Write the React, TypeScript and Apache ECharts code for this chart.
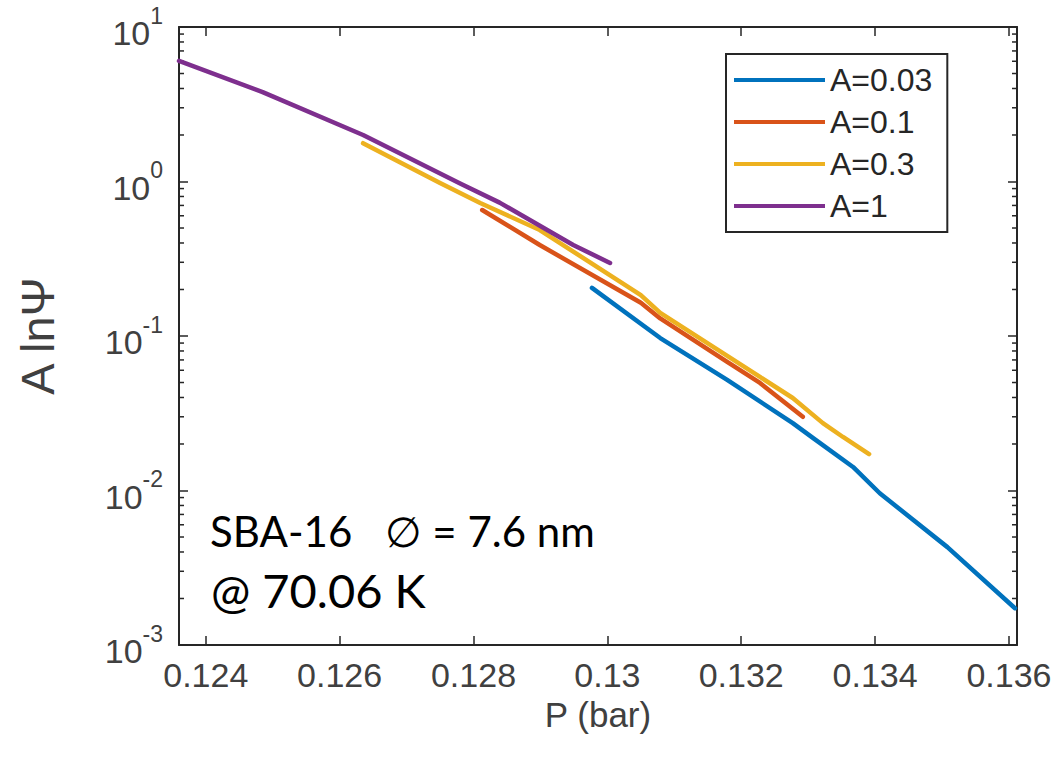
import { useEffect, useRef } from "react";
import * as echarts from "echarts";

const seriesNames = ["A=0.03", "A=0.1", "A=0.3", "A=1"];
const seriesColors = ["#0072BD", "#D95319", "#EDB120", "#7E2F8E"];

const blueP = [0.12977, 0.13079, 0.13179, 0.13277, 0.13307, 0.13367, 0.13407, 0.13508, 0.13609];
const blueV = [0.205, 0.097, 0.052, 0.0273, 0.0219, 0.0142, 0.0096, 0.0043, 0.00173];

const redP = [0.12813, 0.12899, 0.1305, 0.13079, 0.13179, 0.13228, 0.13292];
const redV = [0.654, 0.388, 0.164, 0.13, 0.068, 0.0497, 0.030];

const yellowP = [0.12635, 0.1275, 0.1281, 0.12899, 0.1305, 0.13079, 0.13228, 0.13277, 0.13322, 0.13352, 0.13391];
const yellowV = [1.77, 0.977, 0.726, 0.485, 0.184, 0.141, 0.0543, 0.0397, 0.0273, 0.0222, 0.0172];

const purpleP = [0.1236, 0.12485, 0.12635, 0.1278, 0.12839, 0.12949, 0.13004];
const purpleV = [6.03, 3.79, 2.0, 0.97, 0.73, 0.388, 0.297];

const xTickValues = [0.124, 0.126, 0.128, 0.13, 0.132, 0.134, 0.136];
const yDecadeStarts = [0.001, 0.01, 0.1, 1];
const minorMultipliers = [2, 3, 4, 5, 6, 7, 8, 9];

const X_MIN = 0.1236;
const X_MAX = 0.13612;
const Y_MIN = 0.001;
const Y_MAX = 10;

const AX = "#262626";
const LBL = "#404040";
const FONT = "Liberation Sans";

export default function App() {
  const ref = useRef<HTMLDivElement>(null);
  useEffect(() => {
    document.body.style.margin = "0";
    const chart = echarts.init(ref.current!, null, { renderer: "svg" });
    const pairs = (p: number[], v: number[]) => p.map((x, i) => [x, v[i]]);
    const allData = [pairs(blueP, blueV), pairs(redP, redV), pairs(yellowP, yellowV), pairs(purpleP, purpleV)];
    const minorData: number[][] = [];
    yDecadeStarts.forEach((d) => minorMultipliers.forEach((m) => minorData.push([X_MIN, m * d])));

    const lineSeries = allData.map((d, i) => ({
      type: "line",
      name: seriesNames[i],
      data: d,
      showSymbol: false,
      symbol: "none",
      lineStyle: { width: 4.5, color: seriesColors[i], join: "round", cap: "round" },
      itemStyle: { color: seriesColors[i] },
      z: 3 + i,
    }));

    const tickStyle = { show: true, inside: true, length: 9, lineStyle: { color: AX, width: 1.5 } };

    chart.setOption({
      animation: false,
      backgroundColor: "#ffffff",
      textStyle: { fontFamily: FONT },
      grid: { left: 179, top: 27, width: 838, height: 618, containLabel: false },
      legend: {
        data: seriesNames,
        orient: "vertical",
        left: 726,
        top: 54,
        icon: "rect",
        itemWidth: 91,
        itemHeight: 4,
        itemGap: 10,
        padding: [10, 15, 10, 8],
        borderColor: AX,
        borderWidth: 2,
        backgroundColor: "#ffffff",
        textStyle: { fontSize: 32, color: AX, fontFamily: FONT },
      },
      xAxis: [
        {
          type: "value",
          min: X_MIN,
          max: X_MAX,
          name: "P (bar)",
          nameLocation: "middle",
          nameGap: 50,
          nameTextStyle: { fontSize: 35, color: LBL, fontFamily: FONT },
          axisLine: { show: true, lineStyle: { color: AX, width: 2 } },
          axisTick: { ...tickStyle, customValues: xTickValues },
          axisLabel: {
            customValues: xTickValues,
            margin: 13,
            fontSize: 34,
            color: LBL,
            fontFamily: FONT,
            formatter: (v: number) => String(parseFloat(v.toFixed(3))),
          },
          splitLine: { show: false },
        },
        {
          type: "value",
          position: "top",
          min: X_MIN,
          max: X_MAX,
          axisLine: { show: true, lineStyle: { color: AX, width: 2 } },
          axisTick: { ...tickStyle, customValues: xTickValues },
          axisLabel: { show: false },
          splitLine: { show: false },
        },
      ],
      yAxis: [
        {
          type: "log",
          logBase: 10,
          min: Y_MIN,
          max: Y_MAX,
          name: "A lnΨ",
          nameLocation: "middle",
          nameRotate: 90,
          nameGap: 118,
          nameTextStyle: { fontSize: 47, color: LBL, fontFamily: FONT },
          axisLine: { show: true, lineStyle: { color: AX, width: 2 } },
          axisTick: tickStyle,
          axisLabel: {
            margin: 16,
            color: LBL,
            formatter: (v: number) => `{b|10}{s|${Math.round(Math.log10(v))}}`,
            rich: {
              b: { fontSize: 34, color: LBL, fontFamily: FONT, lineHeight: 46, verticalAlign: "bottom" },
              s: { fontSize: 23, color: LBL, fontFamily: FONT, lineHeight: 23, verticalAlign: "top" },
            },
          },
          splitLine: { show: false },
        },
        {
          type: "log",
          logBase: 10,
          position: "right",
          min: Y_MIN,
          max: Y_MAX,
          axisLine: { show: true, lineStyle: { color: AX, width: 2 } },
          axisTick: tickStyle,
          axisLabel: { show: false },
          splitLine: { show: false },
        },
      ],
      series: [
        ...lineSeries,
        {
          type: "custom",
          silent: true,
          clip: false,
          data: minorData,
          z: 2,
          renderItem: (_params: any, api: any) => {
            const v = api.value(1);
            const pL = api.coord([X_MIN, v]);
            const pR = api.coord([X_MAX, v]);
            return {
              type: "group",
              children: [
                { type: "line", shape: { x1: pL[0], y1: pL[1], x2: pL[0] + 5, y2: pL[1] }, style: { stroke: AX, lineWidth: 1.5 } },
                { type: "line", shape: { x1: pR[0], y1: pR[1], x2: pR[0] - 5, y2: pR[1] }, style: { stroke: AX, lineWidth: 1.5 } },
              ],
            };
          },
        },
      ],
      graphic: [
        {
          type: "text",
          left: 210,
          top: 510,
          style: { text: "SBA-16   ∅ = 7.6 nm", fontSize: 42, fontFamily: "Lato", fill: "#000000" },
        },
        {
          type: "text",
          left: 211,
          top: 566,
          style: { text: "@ 70.06 K", fontSize: 47, fontFamily: "Lato", fill: "#000000" },
        },
      ],
    });
    return () => chart.dispose();
  }, []);
  return <div ref={ref} style={{ width: 1060, height: 760 }} />;
}
